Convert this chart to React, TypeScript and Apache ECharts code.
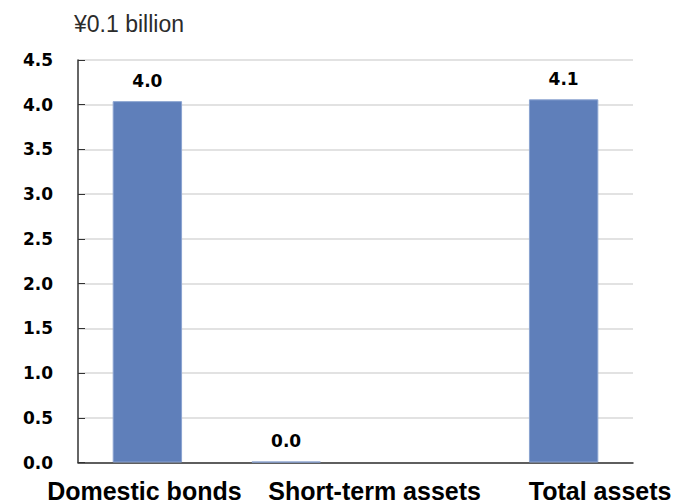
import React, { useEffect, useRef } from "react";
import * as echarts from "echarts";

const categories = ["Domestic bonds", "Short-term assets", "", "Total assets"];
const values: (number | null)[] = [4.04, 0.01, null, 4.06];
const unitLabel = "¥0.1 billion";
const yMin = 0;
const yMax = 4.5;
const yStep = 0.5;
// extra left padding (px) that shifts each category label to where the reference prints it
const labelShift = [0, 177, 0, 73];

export default function App() {
  const ref = useRef<HTMLDivElement>(null);
  useEffect(() => {
    if (!ref.current) return;
    const chart = echarts.init(ref.current, undefined, { renderer: "svg" });
    chart.setOption({
      animation: false,
      backgroundColor: "#ffffff",
      title: {
        text: unitLabel,
        left: 69,
        top: 7,
        textStyle: {
          fontFamily: "Liberation Sans",
          fontSize: 23,
          fontWeight: "normal",
          color: "#2b2b2b",
        },
      },
      grid: { left: 78, right: 64, top: 60, bottom: 40, containLabel: false },
      xAxis: {
        type: "category",
        data: categories.map((c, i) => ({
          value: c,
          textStyle: { padding: [0, labelShift[i] > 0 ? 0 : 6, 0, labelShift[i]] },
        })),
        axisLine: { show: true, lineStyle: { color: "#333333", width: 1.5 } },
        axisTick: { show: false },
        axisLabel: {
          interval: 0,
          margin: 16,
          fontFamily: "Liberation Sans",
          fontWeight: "bold",
          fontSize: 25,
          lineHeight: 24,
          color: "#000000",
        },
      },
      yAxis: {
        type: "value",
        min: yMin,
        max: yMax,
        interval: yStep,
        axisLine: { show: true, lineStyle: { color: "#333333", width: 1.5 } },
        axisTick: { show: true, inside: true, length: 7, lineStyle: { color: "#333333" } },
        splitLine: { show: true, lineStyle: { color: "#d9d9d9", width: 1.5 } },
        axisLabel: {
          margin: 25,
          fontFamily: "DejaVu Sans",
          fontWeight: "bold",
          fontSize: 17,
          color: "#000000",
          formatter: (v: number) => v.toFixed(1),
        },
      },
      series: [
        {
          type: "bar",
          data: values,
          barWidth: "50%",
          itemStyle: { color: "#5f7fba", borderColor: "#8aa3d0", borderWidth: 1 },
          label: {
            show: true,
            position: "top",
            distance: 12,
            fontFamily: "DejaVu Sans",
            fontWeight: "bold",
            fontSize: 17,
            color: "#000000",
            formatter: (p: any) => (p.value == null ? "" : Number(p.value).toFixed(1)),
          },
        },
      ],
    });
    return () => chart.dispose();
  }, []);
  return (
    <div
      ref={ref}
      style={{ position: "fixed", left: 0, top: 0, width: 697, height: 503 }}
    />
  );
}
